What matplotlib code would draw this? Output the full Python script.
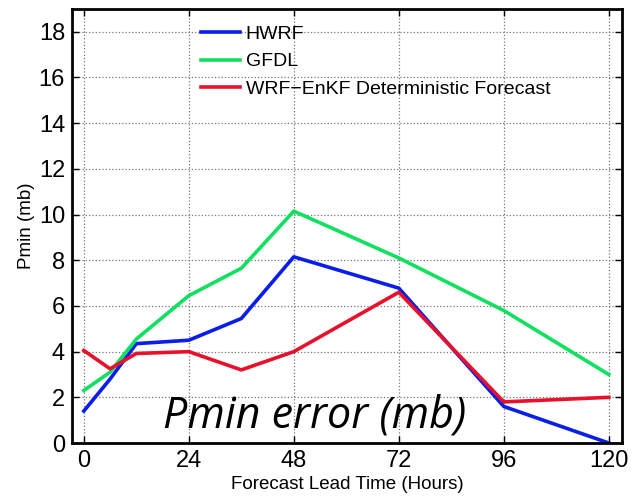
import numpy as np
import matplotlib.pyplot as plt

plt.rcParams['font.family'] = ['Liberation Sans', 'DejaVu Sans']

hours = [0, 6, 12, 24, 36, 48, 72, 96, 120]
hwrf = [1.4, 2.8, 4.35, 4.5, 5.45, 8.15, 6.78, 1.6, 0.0]
gfdl = [2.3, 3.1, 4.55, 6.45, 7.65, 10.15, 8.1, 5.8, 3.0]
enkf = [4.05, 3.25, 3.92, 4.0, 3.2, 4.0, 6.6, 1.8, 2.0]

xticks = [0, 24, 48, 72, 96, 120]
yticks = np.arange(0, 19, 2)

fig = plt.figure(figsize=(6.35, 4.98), dpi=100)
ax = fig.add_axes([0.1134, 0.1104, 0.866, 0.8716])

ax.plot(hours, hwrf, color='#0a1eeb', lw=2.6, label='HWRF')
ax.plot(hours, gfdl, color='#10e060', lw=2.6, label='GFDL')
ax.plot(hours, enkf, color='#e8102a', lw=2.6, label='WRF\u2212EnKF Deterministic Forecast')

ax.set_xlim(-2.7, 123)
ax.set_ylim(0, 19)
ax.set_xticks(xticks)
ax.set_yticks(yticks)
ax.tick_params(direction='in', labelsize=17, length=5, width=1,
               top=True, right=True, pad=5)
ax.grid(True, linestyle=':', color='#777777', lw=0.9)
for s in ax.spines.values():
    s.set_linewidth(2)

ax.set_xlabel('Forecast Lead Time (Hours)', fontsize=13.5, labelpad=3)
ax.set_ylabel('Pmin (mb)', fontsize=13.5, labelpad=3)

ax.legend(loc='upper left', bbox_to_anchor=(0.2345, 0.962), frameon=False,
          fontsize=14, handlelength=2.0, handletextpad=0.3, borderpad=0,
          borderaxespad=0, labelspacing=0.5)

ax.text(0.165, 0.035, 'Pmin error (mb)', transform=ax.transAxes,
        fontsize=31, style='italic', family='Open Sans')

fig.savefig('out.png')
